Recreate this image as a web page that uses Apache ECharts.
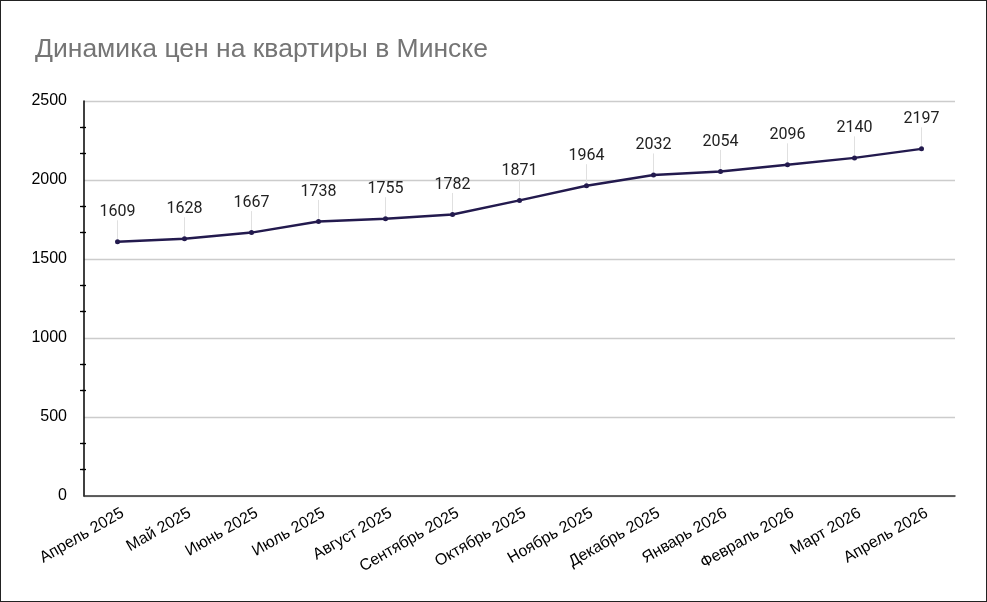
<!DOCTYPE html>
<html>
<head>
<meta charset="utf-8">
<script src="https://cdn.jsdelivr.net/npm/echarts@6/dist/echarts.min.js"></script>
<style>
    html, body { margin: 0; padding: 0; background: #fff; }
    #chart { width: 987px; height: 602px; box-sizing: border-box; border: 1px solid #222; }
</style>
</head>
<body>
<div id="chart"></div>
<script>
var months = ['Апрель 2025', 'Май 2025', 'Июнь 2025', 'Июль 2025', 'Август 2025', 'Сентябрь 2025',
    'Октябрь 2025', 'Ноябрь 2025', 'Декабрь 2025', 'Январь 2026', 'Февраль 2026', 'Март 2026', 'Апрель 2026'];
var prices = [1609, 1628, 1667, 1738, 1755, 1782, 1871, 1964, 2032, 2054, 2096, 2140, 2197];
var yTicks = [0, 500, 1000, 1500, 2000, 2500];

window.onload = function () {
    var chart = echarts.init(document.getElementById('chart'));
    var gridLeft = 83, gridRight = 31;
    var option = {
        animation: false,
        title: {
            text: 'Динамика цен на квартиры в Минске',
            left: 29,
            top: 30,
            textStyle: {
                fontFamily: 'Liberation Sans',
                fontSize: 26.5,
                fontWeight: 'normal',
                color: '#757575'
            }
        },
        grid: {
            left: gridLeft,
            right: gridRight,
            top: 100,
            bottom: 105
        },
        xAxis: {
            type: 'category',
            data: months,
            boundaryGap: true,
            axisLine: { lineStyle: { color: '#333', width: 1.5 } },
            axisTick: { show: false },
            axisLabel: {
                rotate: 30,
                margin: 19,
                padding: [0, -6, 0, 0],
                fontFamily: 'Liberation Sans',
                fontSize: 16,
                color: '#000'
            }
        },
        yAxis: [
            {
                type: 'value',
                min: yTicks[0],
                max: yTicks[yTicks.length - 1],
                interval: 500,
                axisLine: { show: true, lineStyle: { color: '#000', width: 1.5 } },
                axisTick: { show: false },
                minorTick: { show: true, splitNumber: 3, length: 4, lineStyle: { color: '#000', width: 1.3 } },
                axisLabel: {
                    margin: 17,
                    fontFamily: 'Liberation Sans',
                    fontSize: 16,
                    color: '#000',
                    formatter: function (v) { return String(v); }
                },
                splitLine: { lineStyle: { color: '#cccccc', width: 1.3 } }
            },
            {
                // inner half of the crossing minor ticks
                type: 'value',
                position: 'right',
                offset: -(987 - gridLeft - gridRight) + 4,
                min: yTicks[0],
                max: yTicks[yTicks.length - 1],
                interval: 500,
                axisLine: { show: true, lineStyle: { color: 'rgba(0,0,0,0)' } },
                axisTick: { show: false, inside: true },
                minorTick: { show: true, splitNumber: 3, length: 4, lineStyle: { color: '#000', width: 1.3 } },
                axisLabel: { show: true, color: 'rgba(0,0,0,0)' },
                splitLine: { show: false }
            }
        ],
        series: [
            {
                type: 'line',
                data: prices,
                symbol: 'circle',
                symbolSize: 5,
                lineStyle: { color: '#231a4e', width: 2.5 },
                itemStyle: { color: '#231a4e' },
                label: {
                    show: true,
                    position: 'top',
                    distance: 4,
                    fontFamily: 'Roboto',
                    fontSize: 16,
                    color: '#222'
                },
                labelLayout: { dy: -15 },
                labelLine: { show: true, lineStyle: { color: '#e0e0e0', width: 1 } }
            }
        ]
    };
    chart.setOption(option);
};
</script>
</body>
</html>
